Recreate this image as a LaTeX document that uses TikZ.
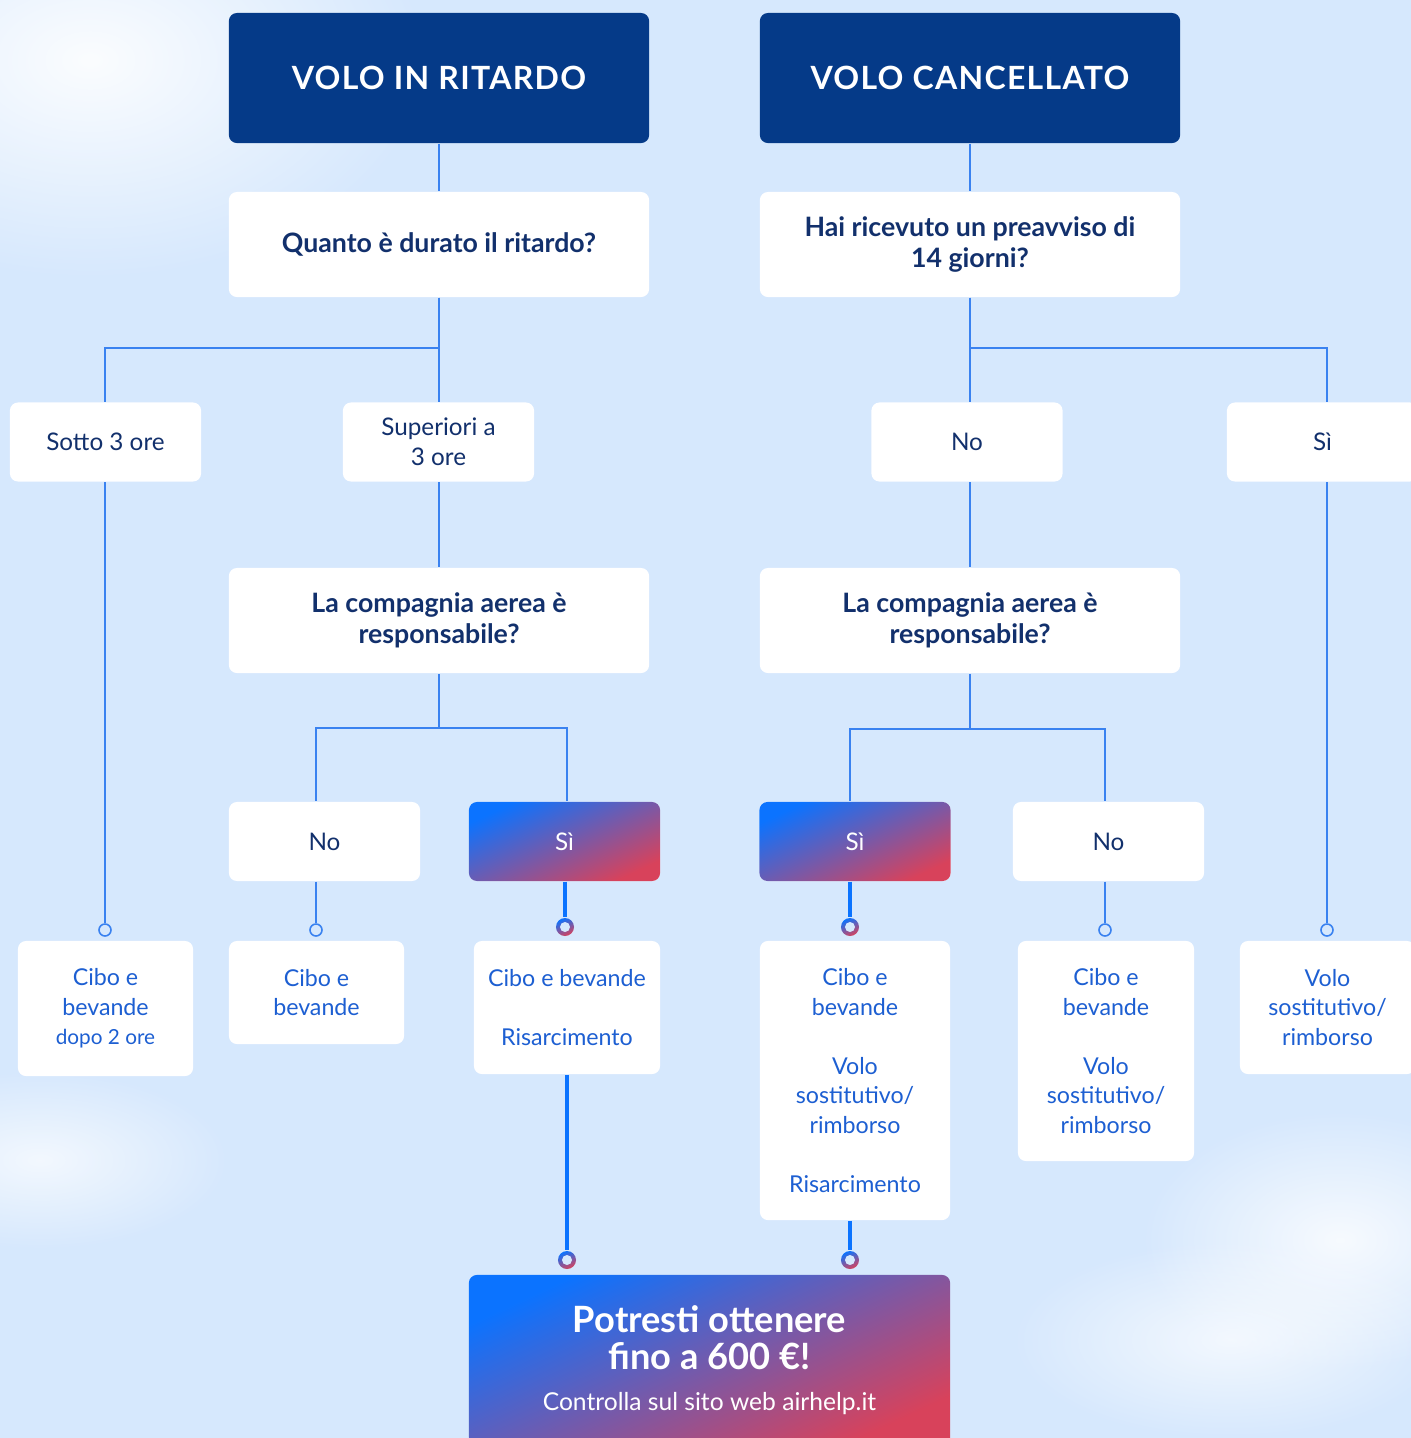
\documentclass[tikz,border=0pt]{standalone}
\usepackage{fontspec}
\setmainfont{Lato}
\usepackage{xcolor}
\usepackage{tikz}
\usetikzlibrary{fadings}
\definecolor{sky}{HTML}{D6E8FD}
\definecolor{navy}{HTML}{053A88}
\definecolor{ink}{HTML}{12306C}
\definecolor{wire}{HTML}{3A82F0}
\definecolor{azure}{HTML}{1D5FD2}
\definecolor{gradA}{HTML}{0B73FF}
\definecolor{gradB}{HTML}{D8425B}
\tikzfading[name=puff, inner color=transparent!0, outer color=transparent!100]

\begin{document}
\begin{tikzpicture}[
  x=0.01cm, y=-0.01cm,
  box/.style={rectangle, rounded corners=0.08cm, inner sep=0pt, align=center},
  title/.style={box, fill=navy, text=white, minimum width=4.2cm, minimum height=1.3cm,
    font=\bfseries\fontsize{9.1}{11}\selectfont\addfontfeature{LetterSpace=4}},
  quest/.style={box, fill=white, text=ink, minimum width=4.2cm, minimum height=1.05cm,
    font=\bfseries\fontsize{7.6}{8.8}\selectfont},
  pick/.style={box, fill=white, text=ink, minimum width=1.91cm, minimum height=0.79cm,
    font=\fontsize{6.9}{8.5}\selectfont},
  glow/.style={shading=axis, top color=gradA, bottom color=gradB, shading angle=25},
  hot/.style={pick, text=white, glow},
  result/.style={box, fill=white, text=azure, minimum width=1.75cm,
    font=\fontsize{6.6}{8.4}\selectfont},
  link/.style={wire, line width=0.45pt},
  heavy/.style={gradA, line width=1.15pt},
  dot/.style={circle, draw=wire, fill=sky, line width=0.45pt, minimum size=0.12cm, inner sep=0pt},
  ring/.style={circle, minimum size=0.18cm, inner sep=0pt, glow,
    path picture={\fill[sky] (path picture bounding box.center) circle (0.05cm);}}]

  \useasboundingbox (0,0) rectangle (1411,1438);
  \clip (0,0) rectangle (1411,1438);
  \fill[sky] (0,0) rectangle (1411,1438);
  \fill[white, path fading=puff, opacity=0.9] (90,60) ellipse [x radius=3.4cm, y radius=2.2cm];
  \fill[white, path fading=puff, opacity=0.7] (40,1160) ellipse [x radius=1.9cm, y radius=0.9cm];
  \fill[white, path fading=puff, opacity=0.8] (1340,1240) ellipse [x radius=2cm, y radius=1.3cm];
  \fill[white, path fading=puff, opacity=0.7] (1230,1340) ellipse [x radius=2.2cm, y radius=1cm];

  % delayed flight
  \node[title] (delay) at (439,78) {VOLO IN RITARDO};
  \node[quest] (qdelay) at (439,244.5) {Quanto è durato il ritardo?};
  \node[pick] (under) at (105.5,442) {Sotto 3 ore};
  \node[pick] (over) at (438.5,442) {Superiori a\\3 ore};
  \node[quest] (resp1) at (439,620.5) {La compagnia aerea è\\responsabile?};
  \node[pick] (no1) at (324.5,841.5) {No};
  \node[hot] (yes1) at (564.5,841.5) {Sì};

  % cancelled flight
  \node[title] (cancel) at (970,78) {VOLO CANCELLATO};
  \node[quest] (qcancel) at (970,244.5) {Hai ricevuto un preavviso di\\14 giorni?};
  \node[pick] (no14) at (967,442) {No};
  \node[pick] (yes14) at (1322.5,442) {Sì};
  \node[quest] (resp2) at (970,620.5) {La compagnia aerea è\\responsabile?};
  \node[hot] (yes2) at (855,841.5) {Sì};
  \node[pick] (no2) at (1108.5,841.5) {No};

  % outcomes
  \node[result, minimum height=1.35cm] (r1) at (105.5,1008.5)
    {Cibo e\\bevande\\{\fontsize{5.9}{8.4}\selectfont dopo 2 ore}};
  \node[result, minimum height=1.03cm] (r2) at (316.5,992.5) {Cibo e\\bevande};
  \node[result, minimum width=1.86cm, minimum height=1.33cm] (r3) at (567,1007.5)
    {Cibo e bevande\\[8.4pt]Risarcimento};
  \node[result, minimum width=1.9cm, minimum height=2.79cm] (r4) at (855,1080.5)
    {Cibo e\\bevande\\[8.4pt]Volo\\sostitutivo/\\rimborso\\[8.4pt]Risarcimento};
  \node[result, minimum width=1.76cm, minimum height=2.2cm] (r5) at (1106,1051)
    {Cibo e\\bevande\\[8.4pt]Volo\\sostitutivo/\\rimborso};
  \node[result, minimum height=1.33cm] (r6) at (1327.5,1007.5) {Volo\\sostitutivo/\\rimborso};

  \node[box, text=white, glow, minimum width=4.81cm, minimum height=1.7cm,
    font=\bfseries\fontsize{10.3}{10.5}\selectfont] (payout) at (709.5,1360)
    {Potresti ottenere\\fino a 600 €!\\[1.2pt]{\mdseries\fontsize{7}{8}\selectfont Controlla sul sito web airhelp.it}};

  \node[dot] (d1) at (105,930) {};
  \node[dot] (d2) at (316,930) {};
  \node[dot] (d5) at (1105,930) {};
  \node[dot] (d6) at (1327,930) {};
  \node[ring] (g1) at (565,927) {};
  \node[ring] (g3) at (850,927) {};
  \node[ring] (g2) at (567,1260) {};
  \node[ring] (g4) at (850,1260) {};

  % connectors
  \draw[link] (delay) -- (qdelay);
  \draw[link] (qdelay.south) -- ++(0,50) -| (under.north -| d1);
  \draw[link] (qdelay.south) -- (over.north -| qdelay);
  \draw[link] (over.south -| resp1) -- (resp1);
  \draw[link] (resp1.south) -- ++(0,54) -| (no1.north -| d2);
  \draw[link] (resp1.south) ++(0,54) -| (yes1.north -| g2);
  \draw[link] (under.south -| d1) -- (d1);
  \draw[link] (no1.south -| d2) -- (d2);
  \draw[heavy] (yes1.south -| g1) -- (g1);

  \draw[link] (cancel) -- (qcancel);
  \draw[link] (qcancel.south) -- ++(0,50) -| (yes14.north -| d6);
  \draw[link] (qcancel) -- (no14.north -| qcancel);
  \draw[link] (no14.south -| resp2) -- (resp2);
  \draw[link] (resp2.south) -- ++(0,55) -| (yes2.north -| g3);
  \draw[link] (resp2.south) ++(0,55) -| (no2.north -| d5);
  \draw[heavy] (yes2.south -| g3) -- (g3);
  \draw[link] (no2.south -| d5) -- (d5);
  \draw[link] (yes14.south -| d6) -- (d6);

  \draw[heavy] (r3.south -| g2) -- (g2);
  \draw[heavy] (r4.south -| g4) -- (g4);
\end{tikzpicture}
\end{document}
